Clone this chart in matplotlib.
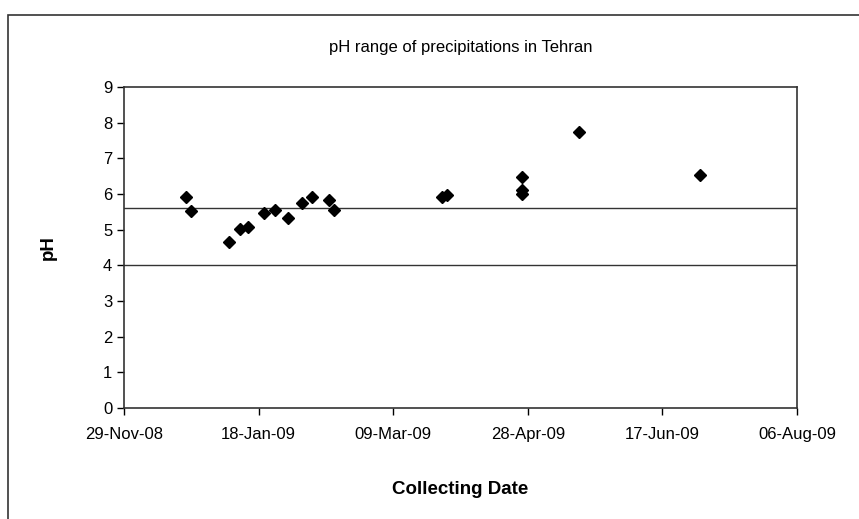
import numpy as np
import pandas as pd
import matplotlib
matplotlib.use("Agg")
import matplotlib.pyplot as plt
import matplotlib.dates as mdates
from matplotlib.patches import Rectangle

plt.rcParams['font.family'] = ['Liberation Sans Narrow', 'Liberation Sans', 'DejaVu Sans']

# collecting dates and measured pH
dates = ["2008-12-22", "2008-12-24", "2009-01-07", "2009-01-11", "2009-01-14",
         "2009-01-20", "2009-01-24", "2009-01-29", "2009-02-03", "2009-02-07",
         "2009-02-13", "2009-02-15", "2009-03-27", "2009-03-29", "2009-04-26",
         "2009-04-26", "2009-04-26", "2009-05-17", "2009-07-01"]
ph = [5.91, 5.53, 4.65, 5.01, 5.08,
      5.48, 5.55, 5.34, 5.74, 5.92,
      5.83, 5.54, 5.91, 5.96, 6.49,
      6.11, 6.00, 7.75, 6.53]

# reference lines
limits = [5.6, 4.0]

x_start = "2008-11-29"
x_end = "2009-08-06"
tick_step = 50

dates = pd.to_datetime(dates)
ticks = pd.date_range(x_start, x_end, freq=f"{tick_step}D")

fig = plt.figure(figsize=(8.59, 5.19), dpi=100)
ax = fig.add_axes([0.1444, 0.2139, 0.7834, 0.6185])

# outer chart border (cut at right edge like the original)
fig.patches.append(Rectangle((8 / 859, -0.05), 1.0, 1 - 15 / 519 + 0.05,
                             transform=fig.transFigure, fill=False,
                             edgecolor="#333333", linewidth=1.2))

for v in limits:
    ax.axhline(v, color="#333333", linewidth=1.0, zorder=1)

ax.plot(dates, ph, linestyle="none", marker="D", markersize=6.5,
        color="black", zorder=3)

ax.set_xlim(pd.Timestamp(x_start), pd.Timestamp(x_end))
ax.set_ylim(0, 9)
ax.set_xticks(ticks)
ax.xaxis.set_major_formatter(mdates.DateFormatter("%d-%b-%y"))
ax.set_yticks(range(0, 10))

ax.tick_params(axis="both", direction="out", length=5, width=1,
               labelsize=12, colors="black")
ax.tick_params(axis="x", pad=9)
for s in ax.spines.values():
    s.set_color("#333333")
    s.set_linewidth(1.2)

ax.set_title("pH range of precipitations in Tehran", fontsize=12, pad=25)
ax.set_xlabel("Collecting Date", fontsize=13.5, fontweight="bold", labelpad=28)
ax.set_ylabel("pH", fontsize=13.5, fontweight="bold", labelpad=33)

fig.savefig("out.png", dpi=100)
